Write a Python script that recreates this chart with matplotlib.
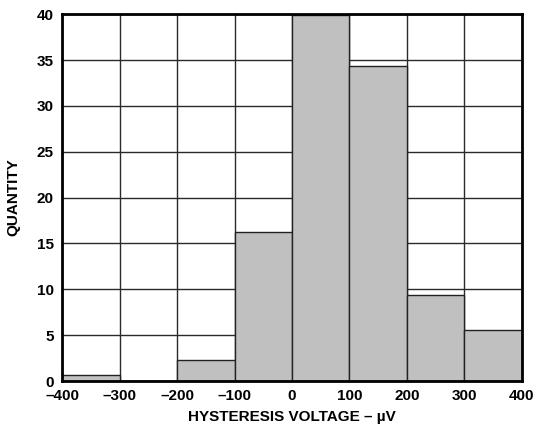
import matplotlib
matplotlib.use("Agg")
import matplotlib.pyplot as plt

# histogram data
bin_left = [-400, -300, -200, -100, 0, 100, 200, 300]
quantity = [0.65, 0, 2.26, 16.3, 39.9, 34.3, 9.4, 5.6]
x_ticks = [-400, -300, -200, -100, 0, 100, 200, 300, 400]
x_labels = ["–400", "–300", "–200", "–100", "0", "100", "200", "300", "400"]
y_ticks = [0, 5, 10, 15, 20, 25, 30, 35, 40]

plt.rcParams['font.family'] = ['Liberation Sans', 'DejaVu Sans']
plt.rcParams['font.weight'] = 'bold'

fig = plt.figure(figsize=(5.37, 4.26), dpi=100)
ax = fig.add_axes([0.1155, 0.1056, 0.8565, 0.861])

ax.bar(bin_left, quantity, width=100, align='edge', color='#c0c0c0',
       edgecolor='#222222', linewidth=1.0, zorder=3)

ax.set_xlim(-400, 400)
ax.set_ylim(0, 40)
ax.set_xticks(x_ticks)
ax.set_xticklabels(x_labels)
ax.set_yticks(y_ticks)
ax.grid(True, color='#2a2a2a', linewidth=1.0, zorder=1)
ax.set_axisbelow(True)
ax.tick_params(axis='x', length=0, labelsize=11, pad=6)
ax.tick_params(axis='y', length=0, labelsize=11, pad=6)
for lab in ax.get_xticklabels() + ax.get_yticklabels():
    lab.set_fontweight('bold')

for s in ax.spines.values():
    s.set_linewidth(2)
    s.set_color('black')
    s.set_zorder(5)

ax.set_xlabel("HYSTERESIS VOLTAGE – µV", fontsize=11, fontweight='bold', labelpad=5)
ax.set_ylabel("QUANTITY", fontsize=11, fontweight='bold', labelpad=12)

fig.savefig("out.png", dpi=100)
